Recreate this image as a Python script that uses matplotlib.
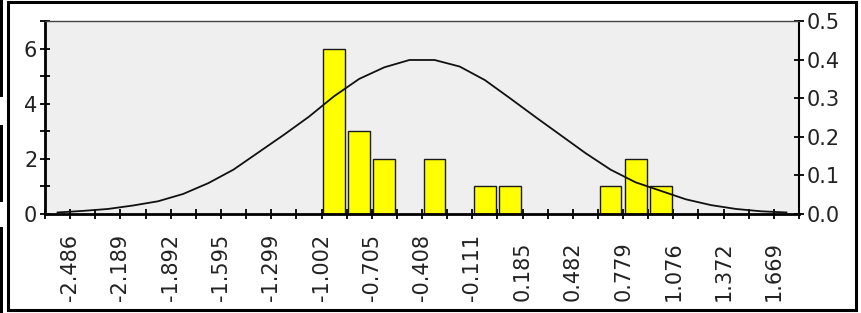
"""Histogram with fitted curve on a twin axis."""
import numpy as np
import matplotlib
matplotlib.use("Agg")
import matplotlib.pyplot as plt
from matplotlib.patches import Rectangle

# 30 bins, every second edge is labelled
EDGE_LABELS = [-2.486, -2.189, -1.892, -1.595, -1.299, -1.002, -0.705, -0.408,
               -0.111, 0.185, 0.482, 0.779, 1.076, 1.372, 1.669]
FIRST_EDGE = -2.6345
BIN_W = 0.14839
COUNTS = [0, 0, 0, 0, 0, 0, 0, 0, 0, 0,
          0, 6, 3, 2, 0, 2, 0, 1, 1, 0,
          0, 0, 1, 2, 1, 0, 0, 0, 0, 0]
# curve value read at each bin centre (right axis)
CURVE = [0.004, 0.008, 0.013, 0.022, 0.033, 0.052, 0.080, 0.115, 0.160, 0.205,
         0.252, 0.305, 0.350, 0.380, 0.399, 0.399, 0.382, 0.347, 0.300, 0.252,
         0.205, 0.158, 0.115, 0.082, 0.060, 0.038, 0.023, 0.013, 0.007, 0.004]
LEFT_TICKS = [0, 2, 4, 6]
RIGHT_TICKS = [0.0, 0.1, 0.2, 0.3, 0.4, 0.5]

W, H = 861, 313
TXT = "#222222"


def main():
    fig = plt.figure(figsize=(W / 100, H / 100), dpi=100)
    ax = fig.add_axes([45 / W, 1 - 214 / H, (799 - 45) / W, (214 - 21) / H])
    ax.set_facecolor("#efefef")

    edges = FIRST_EDGE + BIN_W * np.arange(len(COUNTS) + 1)
    centers = (edges[:-1] + edges[1:]) / 2
    counts = np.array(COUNTS)
    nz = counts > 0
    ax.bar(centers[nz], counts[nz], width=BIN_W * 0.87, color="#ffff00",
           edgecolor="#1a1a1a", linewidth=1.0, zorder=2)

    ax.set_xlim(edges[0], edges[-1])
    ax.set_ylim(0, 7)
    ax.set_yticks(LEFT_TICKS)
    ax.set_yticks([1, 3, 5, 7], minor=True)
    ax.set_xticks(EDGE_LABELS)
    ax.set_xticklabels([f"{v:.3f}" for v in EDGE_LABELS])
    ax.set_xticks(edges[0::2], minor=True)

    ax2 = ax.twinx()
    ax2.plot(centers, CURVE, color="#111111", lw=1.3)
    ax2.set_ylim(0, 0.5)
    ax2.set_yticks(RIGHT_TICKS)
    ax2.set_yticklabels([f"{v:.1f}" for v in RIGHT_TICKS])

    for s in ("top", "right"):
        ax.spines[s].set_visible(False)
    for s in ("left", "bottom"):
        ax2.spines[s].set_visible(False)
    ax.spines["left"].set_linewidth(2.0)
    ax.spines["bottom"].set_linewidth(2.0)
    ax2.spines["right"].set_linewidth(1.5)
    ax2.spines["top"].set_color("#444444")
    ax2.spines["top"].set_linewidth(1.0)

    for a in (ax, ax2):
        a.tick_params(axis="both", which="both", direction="inout", length=7,
                      width=1.3, labelsize=15, labelcolor=TXT)
    ax.tick_params(axis="y", pad=2)
    ax2.tick_params(axis="y", pad=2)
    ax.tick_params(axis="x", pad=59, labelrotation=90)
    plt.setp(ax.get_xticklabels(), va="bottom", ha="center")

    # outer frame and the clipped bits on the far left
    fig.add_artist(Rectangle((7.5 / W, 1 - 309.5 / H), (855.5 - 7.5) / W,
                             (309.5 - 1.5) / H, transform=fig.transFigure,
                             fill=False, lw=2.2, ec="black"))
    for y0, y1 in [(0, 97), (125, 202), (227, 313)]:
        fig.add_artist(Rectangle((0, 1 - y1 / H), 2.7 / W, (y1 - y0) / H,
                                 transform=fig.transFigure, color="black", lw=0))

    fig.savefig("out.png", dpi=100)


if __name__ == "__main__":
    main()
